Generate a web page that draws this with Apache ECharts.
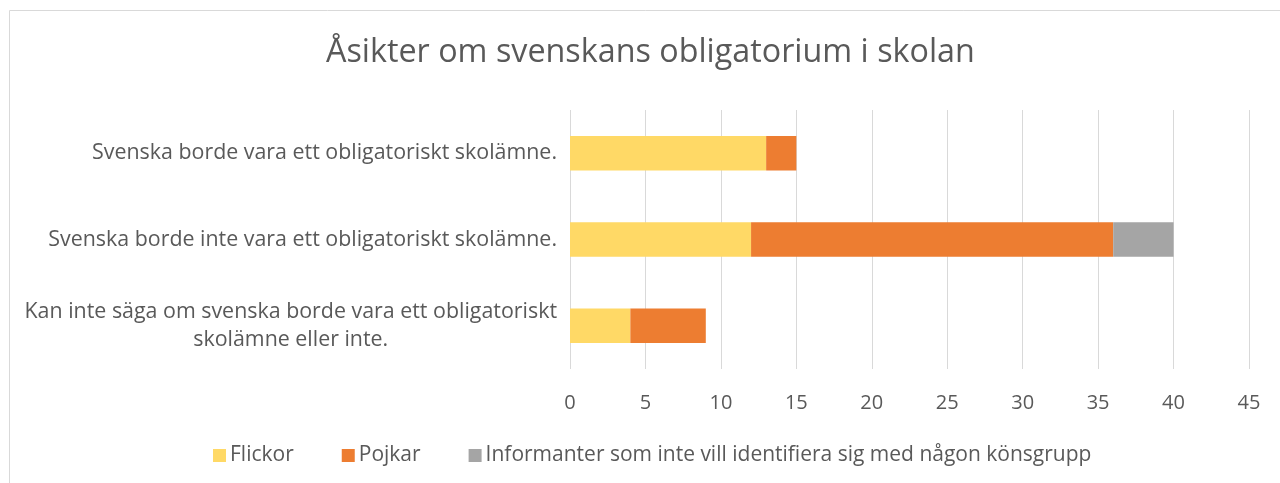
<!DOCTYPE html>
<html>
<head>
<meta charset="utf-8">
<script src="https://cdn.jsdelivr.net/npm/echarts@6/dist/echarts.min.js"></script>
<style>
html,body{margin:0;padding:0;background:#fff;}
#c{width:1280px;height:483px;}
</style>
</head>
<body>
<div id="c"></div>
<script>
const title = 'Åsikter om svenskans obligatorium i skolan';
const categories = [
  'Svenska borde vara ett obligatoriskt skolämne.',
  'Svenska borde inte vara ett obligatoriskt skolämne.',
  'Kan inte säga om svenska borde vara ett obligatoriskt\nskolämne eller inte.'
];
const seriesNames = ['Flickor', 'Pojkar', 'Informanter som inte vill identifiera sig med någon könsgrupp'];
const flickor = [13, 12, 4];
const pojkar = [2, 24, 5];
const ovriga = [0, 4, 0];
const colors = ['#FFD966', '#ED7D31', '#A5A5A5'];

const FONT = 'Open Sans';
const TXT = '#595959';
const FS = 21;
const CFS = 21.4;

const chart = echarts.init(document.getElementById('c'));
const mk = (name, data, color) => ({
  name, type: 'bar', stack: 'total', data,
  itemStyle: {color},
  barCategoryGap: '60%'
});
chart.setOption({
  animation: false,
  textStyle: {fontFamily: FONT},
  title: {
    text: title, left: 326, top: 37, padding: 0,
    textStyle: {fontFamily: FONT, fontSize: 32.3, fontWeight: 'normal', color: TXT}
  },
  legend: {
    bottom: 17, left: 213, padding: 0, itemWidth: 13, itemHeight: 13, itemGap: 48,
    icon: 'rect',
    textStyle: {fontFamily: FONT, fontSize: FS, color: TXT, padding: [0, 0, 0, -1]},
    data: seriesNames
  },
  grid: {left: 570, right: 31, top: 110, bottom: 114, containLabel: false},
  xAxis: {
    type: 'value', min: 0, max: 45, interval: 5,
    axisLine: {show: false}, axisTick: {show: false},
    splitLine: {lineStyle: {color: '#D9D9D9', width: 1}},
    axisLabel: {fontFamily: FONT, fontSize: 20, color: TXT, margin: 24}
  },
  yAxis: {
    type: 'category', data: categories, inverse: true,
    axisLine: {show: false}, axisTick: {show: false},
    axisLabel: {
      fontFamily: FONT, fontSize: CFS, color: TXT, margin: 13, lineHeight: 28,
      formatter: v => v.indexOf('\n') >= 0 ? v.split('\n').map(s => '{c|' + s + '}').join('\n') : v,
      rich: {c: {align: 'center', fontFamily: FONT, fontSize: CFS, color: TXT, lineHeight: 28}}
    }
  },
  graphic: [{
    type: 'rect', shape: {x: 9.5, y: 10.5, width: 1300, height: 500},
    style: {fill: 'none', stroke: '#D9D9D9', lineWidth: 1}, silent: true, z: -10
  }],
  series: [mk(seriesNames[0], flickor, colors[0]), mk(seriesNames[1], pojkar, colors[1]), mk(seriesNames[2], ovriga, colors[2])]
});
</script>
</body>
</html>
